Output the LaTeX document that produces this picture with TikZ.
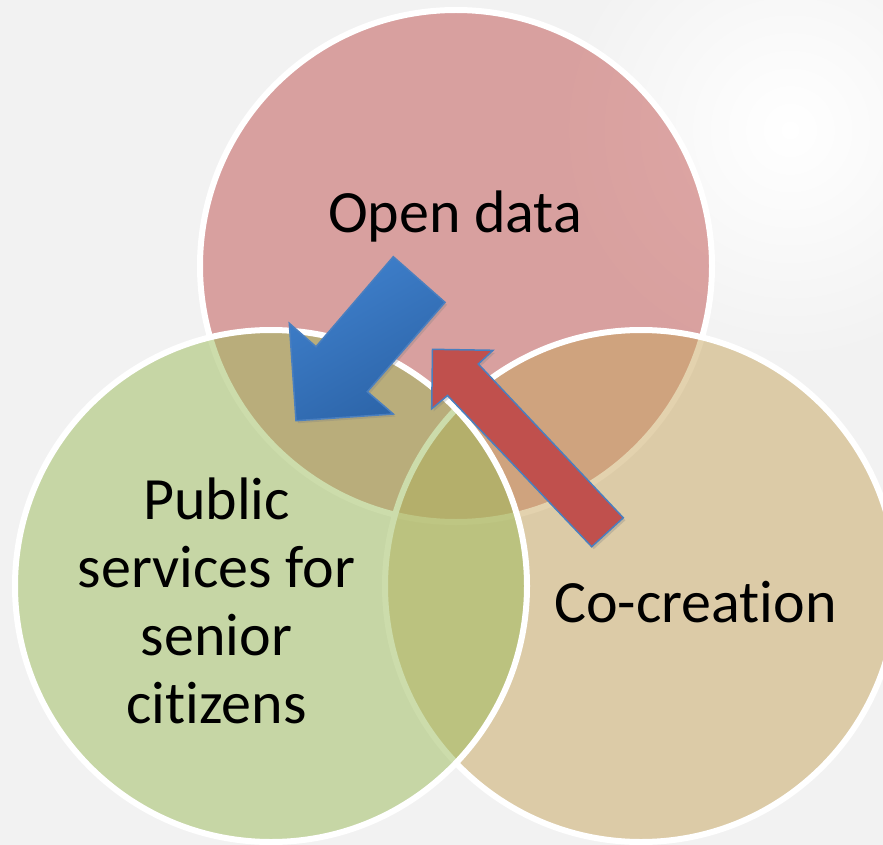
\documentclass[tikz,border=0pt]{standalone}
\usepackage{fontspec}
\setmainfont{Carlito}[Ligatures={NoCommon,NoRequired,NoContextual}]
\usetikzlibrary{shadows}
\definecolor{bgcol}{HTML}{F2F2F2}
\definecolor{pinkc}{HTML}{C0504D}
\definecolor{greenc}{HTML}{9BBB59}
\definecolor{tanc}{HTML}{C8A65E}
\definecolor{blueL}{HTML}{3F80CC}
\definecolor{blueD}{HTML}{2C64A8}
\definecolor{blueO}{HTML}{4A7FBF}
\tikzset{
  venn/.style={circle, draw=white, line width=6pt, minimum size=512pt, inner sep=0pt, fill opacity=0.5, draw opacity=1},
  lbl/.style={font=\fontsize{60}{67.7}\selectfont, text=black, inner sep=0pt, align=center},
  arrowshadow/.style={drop shadow={opacity=0.3, shadow xshift=2pt, shadow yshift=-2.5pt}}
}
\begin{document}
\begin{tikzpicture}[x=1pt,y=-1pt]
\useasboundingbox (0,0) rectangle (883,845);
\clip (0,0) rectangle (883,845);
\fill[bgcol] (0,0) rectangle (883,845);
\shade[inner color=white, outer color=bgcol] (790,130) circle[radius=230pt];
% circles
\node[venn, fill=pinkc] (opendata) at (456,266) {};
\node[venn, fill=tanc] (cocreation) at (641,586) {};
\node[venn, fill=greenc] (public) at (271,586) {};
% labels
\node[lbl, anchor=base] (t1) at (455,232) {Open data};
\node[lbl, anchor=base] (t3) at (695.5,622) {Co-creation};
\node[lbl, anchor=base] (t2) at (216.5,723) {Public\\services for\\senior\\citizens};
% blue arrow
\path[arrowshadow, top color=blueL, bottom color=blueD, shading angle=30, draw=blueO, line width=1.5pt, line join=miter]
  (393.3,256.7) -- (445,302.3) -- (367.3,391.7) -- (393.3,414) -- (296,420.7)
  -- (289.3,323.3) -- (316,346.7) -- cycle;
% red arrow
\path[arrowshadow, fill=pinkc, draw=blueO, line width=1.5pt, line join=miter]
  (432.5,349.3) -- (493,350.3) -- (478.3,364) -- (623.3,517.8) -- (591.7,546.7)
  -- (447.5,395.5) -- (431.7,408.8) -- cycle;
\end{tikzpicture}
\end{document}
